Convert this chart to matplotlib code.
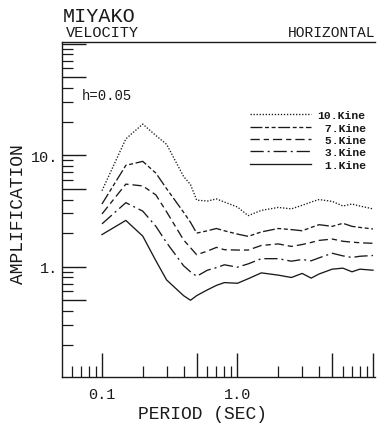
import numpy as np
import matplotlib
matplotlib.use('Agg')
import matplotlib.pyplot as plt
from matplotlib.ticker import LogLocator, FuncFormatter, NullFormatter

plt.rcParams['font.family'] = ['Liberation Mono', 'DejaVu Sans Mono']

# Period (sec) grid where the curves are sampled
period = [0.1, 0.15, 0.2, 0.25, 0.3, 0.4, 0.45, 0.5, 0.6, 0.7, 0.8, 1.0,
          1.2, 1.5, 2.0, 2.5, 3.0, 3.5, 4.0, 5.0, 6.0, 7.0, 8.0, 10.0]

# amplification for each input level
amp_10kine = [4.8, 14.0, 19.0, 15.0, 12.5, 6.45, 5.45, 3.95, 3.88, 4.05, 3.8, 3.43,
              2.87, 3.2, 3.4, 3.3, 3.55, 3.8, 4.0, 3.85, 3.5, 3.65, 3.5, 3.3]
amp_7kine = [3.65, 8.1, 8.8, 6.9, 5.0, 3.08, 2.5, 2.0, 2.1, 2.2, 2.1, 1.96,
             1.87, 2.05, 2.2, 2.15, 2.1, 2.25, 2.38, 2.3, 2.45, 2.3, 2.25, 2.18]
amp_5kine = [2.97, 5.5, 5.3, 4.4, 3.1, 1.74, 1.48, 1.28, 1.38, 1.49, 1.42, 1.41,
             1.41, 1.55, 1.6, 1.52, 1.58, 1.65, 1.72, 1.77, 1.69, 1.66, 1.64, 1.62]
amp_3kine = [2.42, 3.75, 3.15, 2.3, 1.64, 1.02, 0.9, 0.82, 0.93, 0.98, 1.04, 0.99,
             1.06, 1.18, 1.18, 1.12, 1.16, 1.13, 1.2, 1.32, 1.25, 1.21, 1.24, 1.26]
amp_1kine = [1.94, 2.6, 1.88, 1.13, 0.76, 0.55, 0.5, 0.55, 0.62, 0.68, 0.72, 0.71,
             0.78, 0.88, 0.84, 0.8, 0.87, 0.79, 0.86, 0.95, 0.97, 0.9, 0.95, 0.93]

labels = ['10.Kine', ' 7.Kine', ' 5.Kine', ' 3.Kine', ' 1.Kine']
series = [amp_10kine, amp_7kine, amp_5kine, amp_3kine, amp_1kine]
styles = [(0, (1, 1.3)), (0, (9, 2, 3, 2, 3, 2)), (0, (7, 3, 4, 3)),
          (0, (10, 3, 1.5, 3)), '-']

ink = '#1a1a1a'
fig = plt.figure(figsize=(3.77, 4.27), dpi=100)
ax = fig.add_axes([62 / 377, 49 / 427, 313 / 377, 335 / 427])

for y, lab, ls in zip(series, labels, styles):
    ax.plot(period, y, color=ink, lw=0.95, linestyle=ls, label=lab)

ax.set_xscale('log')
ax.set_yscale('log')
ax.set_xlim(0.0507, 10.35)
ax.set_ylim(0.1025, 103.5)

for axis in (ax.xaxis, ax.yaxis):
    axis.set_major_locator(LogLocator(base=10, subs=(1.0, 5.0)))
    axis.set_minor_locator(LogLocator(base=10, subs=(2, 3, 4, 6, 7, 8, 9)))
    axis.set_minor_formatter(NullFormatter())

ax.xaxis.set_major_formatter(FuncFormatter(
    lambda v, p: {0.1: '0.1', 1.0: '1.0'}.get(round(v, 3), '')))
ax.yaxis.set_major_formatter(FuncFormatter(
    lambda v, p: {1.0: '1.', 10.0: '10.'}.get(round(v, 3), '')))

ax.tick_params(which='major', direction='in', length=17, width=1.0,
               color=ink, labelsize=11, labelcolor=ink)
ax.tick_params(which='minor', direction='in', length=8, width=0.9, color=ink)
ax.tick_params(axis='x', which='major', pad=7)
ax.tick_params(axis='y', which='major', pad=3)

ax.spines['right'].set_visible(False)
for s in ('left', 'bottom', 'top'):
    ax.spines[s].set_color(ink)
    ax.spines[s].set_linewidth(1.0)

fig.text(63 / 377, 1 - 16 / 427, 'MIYAKO', fontsize=14.5, color=ink,
         ha='left', va='center')
fig.text(66 / 377, 1 - 33 / 427, 'VELOCITY', fontsize=11, color=ink,
         ha='left', va='center')
fig.text(375 / 377, 1 - 33 / 427, 'HORIZONTAL', fontsize=10.5, color=ink,
         ha='right', va='center')
fig.text(82 / 377, 1 - 96 / 427, 'h=0.05', fontsize=10, color=ink,
         ha='left', va='center')
fig.text(203 / 377, 1 - 415 / 427, 'PERIOD (SEC)', fontsize=13, color=ink,
         ha='center', va='center')
fig.text(19 / 377, 1 - 214 / 427, 'AMPLIFICATION', fontsize=13, color=ink,
         ha='center', va='center', rotation=90)

leg = ax.legend(loc='center', bbox_to_anchor=(308 / 377, 1 - 141 / 427),
                bbox_transform=fig.transFigure, frameon=False, fontsize=8.2,
                handlelength=5.3, handletextpad=0.6, labelspacing=0.2,
                borderpad=0, borderaxespad=0)
for t in leg.get_texts():
    t.set_color(ink)
    t.set_fontweight('bold')

fig.savefig('out.png', dpi=100)
